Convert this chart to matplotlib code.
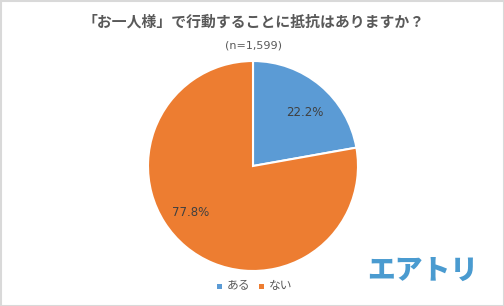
import matplotlib
matplotlib.use("Agg")
import matplotlib.pyplot as plt
from matplotlib.patches import Rectangle

plt.rcParams['font.family'] = ['Noto Sans CJK JP', 'DejaVu Sans']

categories = ["ある", "ない"]
values = [22.2, 77.8]
colors = ["#5b9bd5", "#ed7d31"]
title = "「お一人様」で行動することに抵抗はありますか？"
subtitle = "(n=1,599)"

W, H = 504, 306
fig = plt.figure(figsize=(W/100, H/100), dpi=100)
fig.patch.set_facecolor("white")

# border
fig.add_artist(Rectangle((0.5/W, 0.5/H), 1-1/W, 1-1/H, transform=fig.transFigure,
                         fill=False, edgecolor="#d9d9d9", linewidth=1.5))

cx, cy, r = 253, 166, 105
ax = fig.add_axes([(cx-r)/W, 1-(cy+r)/H, 2*r/W, 2*r/H])
wedges, texts = ax.pie(values, colors=colors, startangle=90, counterclock=False,
                       wedgeprops=dict(edgecolor="white", linewidth=1.5))
ax.set_aspect("auto")
ax.set_xlim(-1, 1); ax.set_ylim(-1, 1)

# value labels
label_pos = [(305, 112), (191, 212)]
for (x, y), v in zip(label_pos, values):
    fig.text(x/W, 1-y/H, f"{v:.1f}%", ha="center", va="center", fontsize=8.5,
             color="#404040", family=["DejaVu Sans"])

fig.text(254/W, 1-22/H, title, ha="center", va="center", fontsize=10.7,
         fontweight="bold", color="#595959")
fig.text(253/W, 1-46/H, subtitle, ha="center", va="center", fontsize=8,
         color="#595959", family=["DejaVu Sans"])

# legend
lx = [219, 261]
for x, c, lab in zip(lx, colors, categories):
    fig.add_artist(Rectangle(((x-2.5)/W, 1-(286+2.5)/H), 5/W, 5/H, transform=fig.transFigure,
                             facecolor=c, edgecolor="none"))
    fig.text((x+8)/W, 1-285/H, lab, ha="left", va="center", fontsize=8.5, color="#595959")

# logo
fig.text(423/W, 1-271/H, "エアトリ", ha="center", va="center", fontsize=20,
         fontweight="heavy", color="#4a9bd0")

fig.savefig("out.png", dpi=100, facecolor="white")
